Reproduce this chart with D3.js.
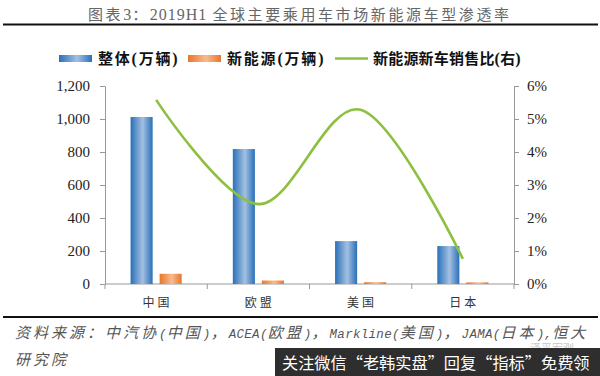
<!DOCTYPE html>
<html>
<head>
<meta charset="utf-8">
<script src="https://cdn.jsdelivr.net/npm/d3@7"></script>
<style>
  html, body { margin: 0; padding: 0; background: #fff; }
  svg { display: block; }
</style>
</head>
<body>
<div id="chart"></div>
<script>
// data
const categories = ['中国', '欧盟', '美国', '日本']
const totalSales = [1012, 818, 260, 230]        // 整体(万辆)
const nevSales = [62, 21, 11, 10]               // 新能源(万辆)
const nevShare = [0.0558, 0.0242, 0.0528, 0.0076] // 新能源新车销售比(右)
const leftTicks = [0, 200, 400, 600, 800, 1000, 1200]
const rightTicks = [0, 0.01, 0.02, 0.03, 0.04, 0.05, 0.06]

const W = 600
const H = 376
const margin = { top: 86, right: 86, bottom: 92, left: 105 }
const width = W - margin.left - margin.right
const height = H - margin.top - margin.bottom

const CJK = '"Noto Sans CJK SC", sans-serif'
const SERIF = '"Liberation Serif", "Times New Roman", serif'
const MONO = '"Liberation Mono", monospace'

const svg = d3.select('#chart')
  .append('svg')
  .attr('width', W)
  .attr('height', H)

// gradients for the bars
const defs = svg.append('defs')
function barGradient (id, edge, mid) {
  const g = defs.append('linearGradient')
    .attr('id', id)
    .attr('x1', '0%').attr('x2', '100%')
    .attr('y1', '0%').attr('y2', '0%')
  g.append('stop').attr('offset', '0%').attr('stop-color', edge)
  g.append('stop').attr('offset', '55%').attr('stop-color', mid)
  g.append('stop').attr('offset', '100%').attr('stop-color', edge)
}
barGradient('gBlue', '#2a70b8', '#a3c0e2')
barGradient('gOrange', '#e8772a', '#f7bb8e')

defs.append('clipPath').attr('id', 'wmClip')
  .append('rect').attr('x', 500).attr('y', 343).attr('width', 100).attr('height', 5)

// mixed text: runs of ascii vs CJK get different fonts
function mixedText (sel, str, opt) {
  const runs = str.match(/[\x00-\x7f]+|[^\x00-\x7f]+/g)
  runs.forEach(r => {
    const ascii = /^[\x00-\x7f]+$/.test(r)
    sel.append('tspan')
      .attr('font-family', ascii ? opt.latinFont : CJK)
      .attr('font-size', ascii ? opt.latinSize : opt.cjkSize)
      .attr('letter-spacing', ascii ? opt.latinSpacing : opt.cjkSpacing)
      .attr('xml:space', 'preserve')
      .text(r)
  })
}

// title
const title = svg.append('text')
  .attr('x', 88)
  .attr('y', 20)
  .attr('fill', '#666')
mixedText(title, '图表3：2019H1 全球主要乘用车市场新能源车型渗透率', {
  latinFont: SERIF, latinSize: 16, latinSpacing: 1,
  cjkSize: 15, cjkSpacing: 2.6
})
svg.append('line')
  .attr('x1', 3).attr('x2', 598)
  .attr('y1', 24.5).attr('y2', 24.5)
  .attr('stroke', '#111')
  .attr('stroke-width', 2)

const g = svg.append('g')
  .attr('transform', `translate(${margin.left},${margin.top})`)

const x0 = d3.scaleBand()
  .domain(categories)
  .range([0, width])
  .paddingInner(0.5)
  .paddingOuter(0.25)

const x1 = d3.scaleBand()
  .domain(['total', 'nev'])
  .range([0, x0.bandwidth()])
  .paddingInner(0.24)

const y = d3.scaleLinear().domain([0, 1200]).range([height, 0])
const y2 = d3.scaleLinear().domain([0, 0.06]).range([height, 0])

// left axis
const leftAxis = g.append('g')
  .call(d3.axisLeft(y).tickValues(leftTicks).tickFormat(d3.format(',')).tickSize(5).tickSizeOuter(0))
leftAxis.selectAll('text')
  .attr('font-family', SERIF)
  .attr('font-size', 15)
  .attr('fill', '#222')
  .attr('dx', -7)

// right axis
const rightAxis = g.append('g')
  .attr('transform', `translate(${width},0)`)
  .call(d3.axisRight(y2).tickValues(rightTicks).tickFormat(d3.format('.0%')).tickSize(5).tickSizeOuter(0))
rightAxis.selectAll('text')
  .attr('font-family', SERIF)
  .attr('font-size', 15)
  .attr('fill', '#222')
  .attr('dx', 5)

// bottom axis: line with ticks on category boundaries
const boundaries = categories.map(c => x0(c) - x0.step() * 0.25).concat([width])
const bottom = g.append('g').attr('transform', `translate(0,${height})`)
bottom.append('line')
  .attr('x1', 0).attr('x2', width)
  .attr('stroke', '#999')
bottom.selectAll('.bt')
  .data(boundaries)
  .join('line')
  .attr('class', 'bt')
  .attr('x1', d => d).attr('x2', d => d)
  .attr('y1', 0).attr('y2', 5)
  .attr('stroke', '#999')
bottom.selectAll('.cat')
  .data(categories)
  .join('text')
  .attr('class', 'cat')
  .attr('x', d => x0(d) + x0.bandwidth() / 2 + 1.5)
  .attr('y', 23)
  .attr('text-anchor', 'middle')
  .attr('font-family', CJK)
  .attr('font-size', 12)
  .attr('letter-spacing', 3)
  .attr('fill', '#333')
  .text(d => d)

g.selectAll('.domain, .tick line').attr('stroke', '#999')

// bars
g.selectAll('.bar-total')
  .data(categories)
  .join('rect')
  .attr('class', 'bar-total')
  .attr('x', d => x0(d) + x1('total'))
  .attr('width', x1.bandwidth())
  .attr('y', (d, i) => y(totalSales[i]))
  .attr('height', (d, i) => height - y(totalSales[i]))
  .attr('fill', 'url(#gBlue)')

g.selectAll('.bar-nev')
  .data(categories)
  .join('rect')
  .attr('class', 'bar-nev')
  .attr('x', d => x0(d) + x1('nev'))
  .attr('width', x1.bandwidth())
  .attr('y', (d, i) => y(nevSales[i]))
  .attr('height', (d, i) => height - y(nevSales[i]))
  .attr('fill', 'url(#gOrange)')

// share line (smoothed like Excel)
const line = d3.line()
  .x((d, i) => x0(categories[i]) + x0.bandwidth() / 2)
  .y(d => y2(d))
  .curve(d3.curveCatmullRom.alpha(0))

g.append('path')
  .datum(nevShare)
  .attr('fill', 'none')
  .attr('stroke', '#8dc03f')
  .attr('stroke-width', 2.6)
  .attr('d', line)

// legend
const legend = svg.append('g').attr('transform', 'translate(0,58)')
legend.append('rect').attr('x', 59).attr('y', -3).attr('width', 33).attr('height', 7).attr('fill', 'url(#gBlue)')
legend.append('rect').attr('x', 188).attr('y', -3).attr('width', 33).attr('height', 7).attr('fill', 'url(#gOrange)')
legend.append('line').attr('x1', 335).attr('x2', 368).attr('y1', 0.5).attr('y2', 0.5)
  .attr('stroke', '#8dc03f').attr('stroke-width', 2.6)

const legendItems = [
  { x: 98, label: '整体(万辆)', spacing: 1.8 },
  { x: 227, label: '新能源(万辆)', spacing: 1.8 },
  { x: 373, label: '新能源新车销售比(右)', spacing: 0.2 }
]
legendItems.forEach(it => {
  const t = legend.append('text')
    .attr('x', it.x)
    .attr('y', 6)
    .attr('font-weight', 'bold')
    .attr('fill', '#111')
  mixedText(t, it.label, {
    latinFont: SERIF, latinSize: 16, latinSpacing: it.spacing,
    cjkSize: 15, cjkSpacing: it.spacing
  })
})

// bottom separator + source
svg.append('line')
  .attr('x1', 3).attr('x2', 598)
  .attr('y1', 317).attr('y2', 317)
  .attr('stroke', '#111')
  .attr('stroke-width', 2)

const src1 = svg.append('text')
  .attr('x', 15)
  .attr('y', 338)
  .attr('fill', '#555')
  .attr('font-style', 'italic')
mixedText(src1, '资料来源：中汽协(中国)，ACEA(欧盟)，Markline(美国)，JAMA(日本),恒大', {
  latinFont: MONO, latinSize: 12.5, latinSpacing: 0.3,
  cjkSize: 15, cjkSpacing: 3
})
const src2 = svg.append('text')
  .attr('x', 15)
  .attr('y', 365)
  .attr('fill', '#555')
  .attr('font-style', 'italic')
mixedText(src2, '研究院', {
  latinFont: MONO, latinSize: 12.5, latinSpacing: 0.3,
  cjkSize: 15, cjkSpacing: 3
})

// faint watermark, mostly hidden under the banner
svg.append('text')
  .attr('x', 530)
  .attr('y', 352)
  .attr('font-family', CJK)
  .attr('font-size', 11)
  .attr('fill', '#c8c8c8')
  .attr('clip-path', 'url(#wmClip)')
  .text('泽平宏观')

// banner
svg.append('rect')
  .attr('x', 275).attr('y', 348)
  .attr('width', 325).attr('height', 28)
  .attr('fill', '#2e2e2e')
svg.append('text')
  .attr('x', 282)
  .attr('y', 369)
  .attr('font-family', CJK)
  .attr('font-size', 16.2)
  .attr('fill', '#fff')
  .text('关注微信“老韩实盘”回复“指标”免费领')
</script>
</body>
</html>
